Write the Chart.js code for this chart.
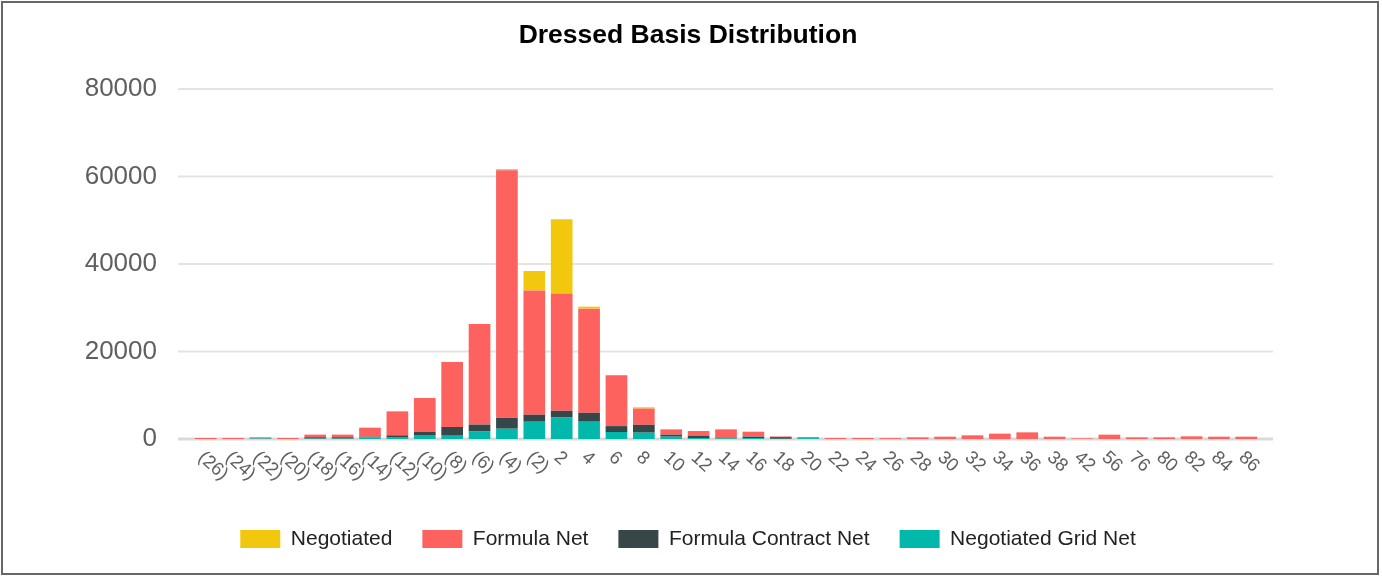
<!DOCTYPE html>
<html>
<head>
<meta charset="utf-8">
<script src="https://cdn.jsdelivr.net/npm/chart.js@4/dist/chart.umd.min.js"></script>
<style>
  html, body { margin: 0; padding: 0; background: #fff; }
  #wrap { position: relative; width: 1382px; height: 577px; }
  #frame { position: absolute; left: 1px; top: 1px; width: 1378px; height: 574px;
           box-sizing: border-box; border: 2px solid #666; pointer-events: none; }
</style>
</head>
<body>
<div id="wrap">
  <canvas id="basisChart"></canvas>
  <div id="frame"></div>
</div>
<script>
const categories = ['(26)', '(24)', '(22)', '(20)', '(18)', '(16)', '(14)', '(12)', '(10)', '(8)', '(6)', '(4)', '(2)',
    '2', '4', '6', '8', '10', '12', '14', '16', '18', '20', '22', '24', '26', '28', '30', '32', '34', '36', '38',
    '42', '56', '76', '80', '82', '84', '86'];

const negotiatedGridNet = [0, 0, 100, 0, 100, 100, 380, 460, 760, 750, 1700, 2350, 3950,
    5000, 3950, 1600, 1450, 530, 230, 150, 230, 50, 200, 0, 0, 0, 0, 0, 0, 0, 0, 0,
    0, 0, 0, 0, 0, 0, 0];

const formulaContractNet = [0, 0, 50, 0, 300, 300, 150, 380, 840, 2000, 1600, 2500, 1600,
    1450, 2050, 1350, 1800, 460, 530, 150, 300, 380, 0, 0, 0, 0, 0, 0, 0, 0, 0, 0,
    0, 0, 0, 0, 0, 0, 0];

const formulaNet = [230, 230, 230, 230, 600, 600, 2060, 5480, 7770, 14850, 23000, 56600, 28400,
    26800, 23800, 11650, 3700, 1210, 1060, 1900, 1140, 150, 250, 230, 230, 200, 380, 530, 840, 1220, 1520, 530,
    150, 990, 380, 380, 610, 530, 530];

const negotiated = [0, 0, 0, 0, 0, 0, 0, 0, 0, 0, 0, 250, 4450,
    17000, 450, 0, 300, 0, 0, 0, 0, 0, 0, 0, 0, 0, 0, 0, 0, 0, 0, 0,
    0, 0, 0, 0, 0, 0, 0];

const yTicks = [0, 20000, 40000, 60000, 80000];

const FONT = '"Liberation Sans", Arial, sans-serif';
Chart.defaults.font.family = FONT;

// horizontal grid lines run a bit past the bars, like the original
const gridPlugin = {
    id: 'wideGrid',
    beforeDatasetsDraw(chart) {
        const { ctx, chartArea, scales: { y } } = chart;
        ctx.save();
        yTicks.forEach((v) => {
            const py = y.getPixelForValue(v);
            ctx.beginPath();
            ctx.lineWidth = v === 0 ? 3 : 2;
            ctx.strokeStyle = v === 0 ? '#d9d9d9' : '#e3e3e3';
            ctx.moveTo(chartArea.left - 14, py);
            ctx.lineTo(chartArea.right + 13, py);
            ctx.stroke();
        });
        ctx.restore();
    },
};

// slanted category labels reading downwards from each tick
const xLabelPlugin = {
    id: 'slantLabels',
    afterDraw(chart) {
        const { ctx, scales: { x } } = chart;
        ctx.save();
        ctx.font = '18.5px ' + FONT;
        ctx.fillStyle = '#5f5f5f';
        ctx.textAlign = 'left';
        ctx.textBaseline = 'middle';
        categories.forEach((label, i) => {
            const px = x.getPixelForValue(i);
            ctx.save();
            ctx.translate(px - 5, x.top + 16);
            ctx.rotate(42 * Math.PI / 180);
            ctx.fillText(label, 0, 0);
            ctx.restore();
        });
        ctx.restore();
    },
};

new Chart(document.getElementById('basisChart'), {
    type: 'bar',
    data: {
        labels: categories,
        datasets: [
            { label: 'Negotiated Grid Net', data: negotiatedGridNet, backgroundColor: '#01B8AA' },
            { label: 'Formula Contract Net', data: formulaContractNet, backgroundColor: '#374649' },
            { label: 'Formula Net', data: formulaNet, backgroundColor: '#FD625E' },
            { label: 'Negotiated', data: negotiated, backgroundColor: '#F2C80F' },
        ],
    },
    options: {
        responsive: true,
        maintainAspectRatio: false,
        animation: false,
        events: [],
        categoryPercentage: 0.8,
        barPercentage: 0.99,
        layout: { padding: { left: 74, right: 80, top: 0, bottom: 17.5 } },
        plugins: {
            title: {
                display: true,
                text: 'Dressed Basis Distribution',
                color: '#000',
                font: { size: 26.5, weight: 'bold', lineHeight: 1.2 },
                padding: { top: 20.1, bottom: 37.1 },
            },
            legend: {
                position: 'bottom',
                reverse: true,
                labels: {
                    boxWidth: 40,
                    boxHeight: 18,
                    padding: 30,
                    color: '#222',
                    font: { size: 21 },
                },
            },
            tooltip: { enabled: false },
        },
        scales: {
            x: {
                stacked: true,
                grid: { display: false, drawTicks: false },
                border: { display: false },
                ticks: { display: false },
                afterFit: (s) => { s.height = 59.5; },
            },
            y: {
                stacked: true,
                min: 0,
                max: 80000,
                afterBuildTicks: (s) => { s.ticks = yTicks.map((v) => ({ value: v })); },
                afterFit: (s) => { s.width = 118; },
                grid: { display: false, drawTicks: false },
                border: { display: false },
                ticks: {
                    padding: 35,
                    color: '#5f5f5f',
                    font: { size: 26 },
                    callback: (v) => String(v),
                },
            },
            // empty right-hand axis, only there to leave the right margin
            spacer: {
                type: 'linear',
                position: 'right',
                grid: { display: false, drawTicks: false },
                border: { display: false },
                ticks: { display: false },
                afterFit: (s) => { s.width = 42; },
            },
        },
    },
    plugins: [gridPlugin, xLabelPlugin],
});
</script>
</body>
</html>
